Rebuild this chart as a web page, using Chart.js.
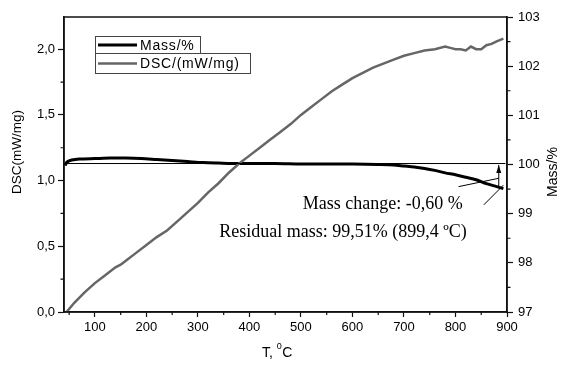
<!DOCTYPE html>
<html><head><meta charset="utf-8">
<script src="https://cdn.jsdelivr.net/npm/chart.js@4/dist/chart.umd.min.js"></script>
<style>html,body{margin:0;padding:0;background:#fff}#wrap{width:576px;height:368px}</style>
</head><body><div id="wrap"><canvas id="c" width="576" height="368"></canvas></div>
<script>
// ---- data ----
const dscT   = [45, 60, 80, 100, 120, 140, 150, 160, 180, 200, 220, 240, 260, 280, 300, 320, 340, 360, 380, 400, 420, 440, 460, 480, 500, 520, 540, 560, 580, 600, 620, 640, 660, 680, 700, 720, 740, 760, 780, 790, 800, 810, 820, 830, 840, 850, 860, 870, 880, 893];
const dscVal = [0.00, 0.07, 0.15, 0.22, 0.28, 0.34, 0.36, 0.39, 0.45, 0.51, 0.57, 0.62, 0.69, 0.76, 0.83, 0.91, 0.98, 1.06, 1.13, 1.19, 1.25, 1.31, 1.37, 1.43, 1.50, 1.56, 1.62, 1.68, 1.73, 1.78, 1.82, 1.86, 1.89, 1.92, 1.95, 1.97, 1.99, 2.00, 2.02, 2.01, 2.00, 2.00, 1.99, 2.02, 2.00, 2.00, 2.03, 2.04, 2.06, 2.08];
const massT   = [42, 46, 55, 70, 100, 130, 160, 190, 220, 250, 280, 310, 340, 380, 450, 500, 550, 600, 650, 680, 700, 720, 740, 760, 780, 800, 820, 840, 860, 880, 893];
const massVal = [99.98, 100.05, 100.09, 100.11, 100.12, 100.13, 100.13, 100.12, 100.10, 100.08, 100.06, 100.04, 100.03, 100.02, 100.02, 100.01, 100.01, 100.01, 100.00, 99.99, 99.97, 99.95, 99.92, 99.88, 99.83, 99.79, 99.74, 99.69, 99.61, 99.55, 99.51];
const refLineT = [40, 897];
const refLineMass = [100.02, 100.02];
const arrowT = [884, 884];
const arrowMass = [99.52, 99.99];
const pointer1T = [806, 884];
const pointer1Mass = [99.55, 99.72];
const pointer2T = [855, 893];
const pointer2Mass = [99.18, 99.58];
const noteTexts = ['Mass change: -0,60 %', 'Residual mass: 99,51% (899,4 \u00baC)'];
const noteT = [814, 822];
const noteMass = [99.09, 98.53];

const xTicks = [100, 200, 300, 400, 500, 600, 700, 800, 900];
const xMinor = [50, 150, 250, 350, 450, 550, 650, 750, 850];
const dscTicks = [0, 0.5, 1.0, 1.5, 2.0];
const dscTickLabels = ['0,0', '0,5', '1,0', '1,5', '2,0'];
const dscMinor = [0.25, 0.75, 1.25, 1.75];
const massTicks = [97, 98, 99, 100, 101, 102, 103];
const massMinor = [97.5, 98.5, 99.5, 100.5, 101.5, 102.5];
const seriesNames = ['Mass/%', 'DSC/(mW/mg)'];

const AX = '#111';
const SANS = '"Liberation Sans", Arial, sans-serif';

const decor = {
  id: 'decor',
  afterDraw(chart) {
    const ctx = chart.ctx, a = chart.chartArea;
    const x = chart.scales.x, yL = chart.scales.yL, yR = chart.scales.yR;
    ctx.save();
    // frame
    ctx.strokeStyle = AX; ctx.lineWidth = 1.5;
    ctx.strokeRect(a.left, a.top, a.right - a.left, a.bottom - a.top);
    // minor ticks
    ctx.lineWidth = 1.2;
    ctx.beginPath();
    xMinor.forEach(v => { const p = x.getPixelForValue(v); ctx.moveTo(p, a.bottom); ctx.lineTo(p, a.bottom + 3); });
    dscMinor.forEach(v => { const p = yL.getPixelForValue(v); ctx.moveTo(a.left, p); ctx.lineTo(a.left - 3.5, p); });
    massMinor.forEach(v => { const p = yR.getPixelForValue(v); ctx.moveTo(a.right, p); ctx.lineTo(a.right + 3.5, p); });
    ctx.stroke();
    // annotation lines
    ctx.strokeStyle = '#000'; ctx.lineWidth = 1;
    const seg = (ts, ms) => { ctx.beginPath(); ctx.moveTo(x.getPixelForValue(ts[0]), yR.getPixelForValue(ms[0])); ctx.lineTo(x.getPixelForValue(ts[1]), yR.getPixelForValue(ms[1])); ctx.stroke(); };
    seg(arrowT, arrowMass); seg(pointer1T, pointer1Mass); seg(pointer2T, pointer2Mass);
    const ax = x.getPixelForValue(arrowT[1]), ay = yR.getPixelForValue(arrowMass[1]);
    ctx.fillStyle = '#000';
    ctx.beginPath(); ctx.moveTo(ax, ay); ctx.lineTo(ax - 2.5, ay + 8); ctx.lineTo(ax + 2.5, ay + 8); ctx.closePath(); ctx.fill();
    // notes
    ctx.font = '18px "Liberation Serif", "Times New Roman", serif';
    ctx.textAlign = 'right'; ctx.textBaseline = 'alphabetic';
    noteTexts.forEach((t, i) => ctx.fillText(t, x.getPixelForValue(noteT[i]), yR.getPixelForValue(noteMass[i])));
    // axis titles
    ctx.fillStyle = '#000';
    ctx.textAlign = 'center'; ctx.textBaseline = 'middle';
    ctx.font = '13.5px ' + SANS;
    ctx.save(); ctx.translate(17, 152); ctx.rotate(-Math.PI / 2); ctx.fillText('DSC(mW/mg)', 0, 0); ctx.restore();
    ctx.font = '14px ' + SANS;
    ctx.save(); ctx.translate(553, 172); ctx.rotate(-Math.PI / 2); ctx.fillText('Mass/%', 0, 0); ctx.restore();
    ctx.textAlign = 'left';
    ctx.fillText('T, ', 262, 353);
    const tw = ctx.measureText('T, ').width;
    ctx.font = '9px ' + SANS;
    ctx.fillText('0', 262 + tw, 347);
    const zw = ctx.measureText('0').width;
    ctx.font = '14px ' + SANS;
    ctx.fillText('C', 262 + tw + zw + 0.5, 353);
    // legend
    const rows = [
      {x: 95, y: 36, w: 105, h: 17, color: '#000', lw: 3},
      {x: 95, y: 53, w: 155, h: 20, color: '#666', lw: 2.5}
    ];
    rows.forEach((r, i) => {
      ctx.fillStyle = '#fff'; ctx.fillRect(r.x, r.y, r.w, r.h);
      ctx.strokeStyle = '#444'; ctx.lineWidth = 1; ctx.strokeRect(r.x + 0.5, r.y + 0.5, r.w, r.h);
      const cy = r.y + r.h / 2 + 0.5;
      ctx.strokeStyle = r.color; ctx.lineWidth = r.lw;
      ctx.beginPath(); ctx.moveTo(98, cy); ctx.lineTo(137, cy); ctx.stroke();
      ctx.fillStyle = '#000'; ctx.font = '14px ' + SANS; ctx.textAlign = 'left'; ctx.textBaseline = 'middle';
      ctx.letterSpacing = '0.8px';
      ctx.fillText(seriesNames[i], 140, cy + 1);
      ctx.letterSpacing = '0px';
    });
    ctx.restore();
  }
};

const toXY = (xs, ys) => xs.map((v, i) => ({x: v, y: ys[i]}));

new Chart(document.getElementById('c'), {
  type: 'line',
  data: {
    datasets: [
      {label: 'ref', data: toXY(refLineT, refLineMass), yAxisID: 'yR', borderColor: '#000', borderWidth: 1, pointRadius: 0},
      {label: seriesNames[1], data: toXY(dscT, dscVal), yAxisID: 'yL', borderColor: '#666', borderWidth: 2.5, pointRadius: 0, tension: 0},
      {label: seriesNames[0], data: toXY(massT, massVal), yAxisID: 'yR', borderColor: '#000', borderWidth: 3, pointRadius: 0, tension: 0.3}
    ]
  },
  options: {
    responsive: false, animation: false, devicePixelRatio: 1,
    layout: {padding: {top: 17, left: 0, right: 0, bottom: 0}},
    plugins: {legend: {display: false}, tooltip: {enabled: false}},
    scales: {
      x: {
        type: 'linear', min: 40, max: 900,
        afterBuildTicks: s => { s.ticks = xTicks.map(v => ({value: v})); },
        afterFit: s => { s.height = 56; },
        grid: {drawOnChartArea: false, tickLength: 5, color: AX, tickWidth: 1.2},
        border: {color: AX, width: 1.5},
        ticks: {color: '#000', font: {family: SANS, size: 13}, padding: 3, maxRotation: 0, autoSkip: false}
      },
      yL: {
        type: 'linear', position: 'left', min: 0, max: 2.245,
        afterBuildTicks: s => { s.ticks = dscTicks.map(v => ({value: v})); },
        afterFit: s => { s.width = 64; },
        grid: {drawOnChartArea: false, tickLength: 6, color: AX, tickWidth: 1.2},
        border: {color: AX, width: 1.5},
        ticks: {color: '#000', font: {family: SANS, size: 13}, padding: 3, autoSkip: false,
          callback: (v) => { const i = dscTicks.indexOf(v); return i >= 0 ? dscTickLabels[i] : ''; }}
      },
      yR: {
        type: 'linear', position: 'right', min: 97, max: 103,
        afterBuildTicks: s => { s.ticks = massTicks.map(v => ({value: v})); },
        afterFit: s => { s.width = 69; },
        grid: {drawOnChartArea: false, tickLength: 6, color: AX, tickWidth: 1.2},
        border: {color: AX, width: 1.5},
        ticks: {color: '#000', font: {family: SANS, size: 13}, padding: 5, autoSkip: false}
      }
    }
  },
  plugins: [decor]
});
</script></body></html>
